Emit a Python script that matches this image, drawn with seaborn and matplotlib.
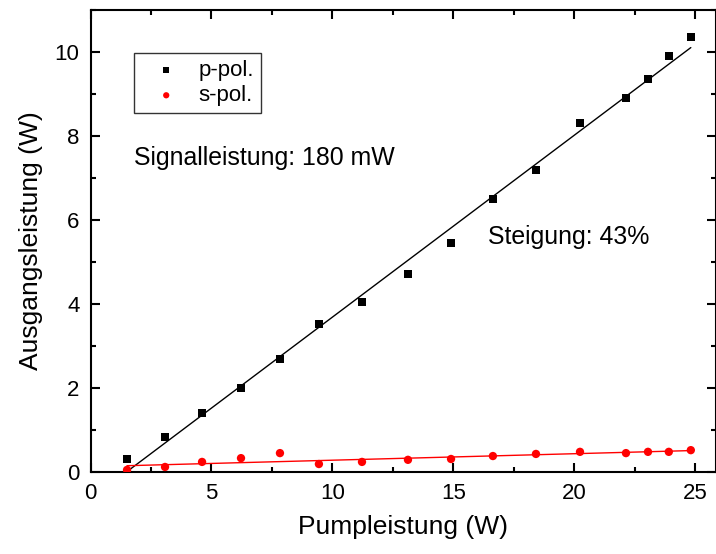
import numpy as np
import pandas as pd
import matplotlib
matplotlib.use("Agg")
import matplotlib.pyplot as plt
import seaborn as sns
from matplotlib.ticker import MultipleLocator

# Data
pump = [1.51, 3.08, 4.61, 6.22, 7.83, 9.44, 11.22, 13.12, 14.90, 16.63,
        18.41, 20.23, 22.13, 23.04, 23.90, 24.81]
p_pol = [0.31, 0.83, 1.40, 2.00, 2.69, 3.52, 4.05, 4.71, 5.45, 6.50,
         7.19, 8.31, 8.90, 9.36, 9.90, 10.36]
s_pol = [0.05, 0.12, 0.24, 0.33, 0.45, 0.19, 0.24, 0.29, 0.31, 0.38,
         0.43, 0.48, 0.45, 0.48, 0.48, 0.52]
series_names = ["p-pol.", "s-pol."]
x_label = "Pumpleistung (W)"
y_label = "Ausgangsleistung (W)"
annot_signal = "Signalleistung: 180 mW"
annot_slope = "Steigung: 43%"

sns.set_theme(style="ticks")
plt.rcParams['font.family'] = ['Liberation Sans', 'DejaVu Sans']
plt.rcParams['text.color'] = 'black'
plt.rcParams['axes.labelcolor'] = 'black'
plt.rcParams['xtick.color'] = 'black'
plt.rcParams['ytick.color'] = 'black'
plt.rcParams['xtick.labelcolor'] = 'black'
plt.rcParams['ytick.labelcolor'] = 'black'

df = pd.DataFrame({"pump": pump, "p": p_pol, "s": s_pol})

fig = plt.figure(figsize=(7.16, 5.54), dpi=100)
ax = fig.add_axes([90.5 / 716, 1 - 472 / 554, (715.5 - 90.5) / 716, (472 - 10) / 554])

sns.regplot(data=df, x="pump", y="p", scatter=False, ci=None, truncate=True,
            color="black", line_kws={"lw": 1.0}, ax=ax)
sns.regplot(data=df, x="pump", y="s", scatter=False, ci=None, truncate=True,
            color="red", line_kws={"lw": 1.0}, ax=ax)
sns.scatterplot(data=df, x="pump", y="p", marker="s", color="black", s=30,
                edgecolor="none", label=series_names[0], ax=ax, zorder=3)
sns.scatterplot(data=df, x="pump", y="s", marker="o", color="red", s=36,
                edgecolor="none", label=series_names[1], ax=ax, zorder=3)

ax.set_xlim(0, 25.83)
ax.set_ylim(0, 11)
ax.xaxis.set_major_locator(MultipleLocator(5))
ax.xaxis.set_minor_locator(MultipleLocator(2.5))
ax.yaxis.set_major_locator(MultipleLocator(2))
ax.yaxis.set_minor_locator(MultipleLocator(1))
ax.tick_params(which="both", direction="in", top=True, right=True, width=1.5,
               colors="black")
ax.tick_params(which="major", length=6.5, labelsize=16, pad=8)
ax.tick_params(which="minor", length=3.6)
for sp in ax.spines.values():
    sp.set_visible(True)
    sp.set_linewidth(1.5)
    sp.set_color("black")

ax.set_xlabel(x_label, fontsize=19, labelpad=8, color="black")
ax.set_ylabel(y_label, fontsize=19, labelpad=8, color="black")

ax.text(1.8, 7.48, annot_signal, fontsize=17.9, va="center", ha="left", color="black")
ax.text(16.43, 5.6, annot_slope, fontsize=17.9, va="center", ha="left", color="black")

leg = ax.legend(loc="upper left", bbox_to_anchor=(43.5 / 625, 1 - 43 / 462),
                fontsize=16, frameon=True, fancybox=False, markerscale=0.75,
                handletextpad=0.3, borderpad=0.3, labelspacing=0.2,
                handlelength=2.3, borderaxespad=0)
leg.get_frame().set_edgecolor("black")
leg.get_frame().set_linewidth(1.0)
for t in leg.get_texts():
    t.set_color("black")

fig.savefig("out.png", dpi=100)
